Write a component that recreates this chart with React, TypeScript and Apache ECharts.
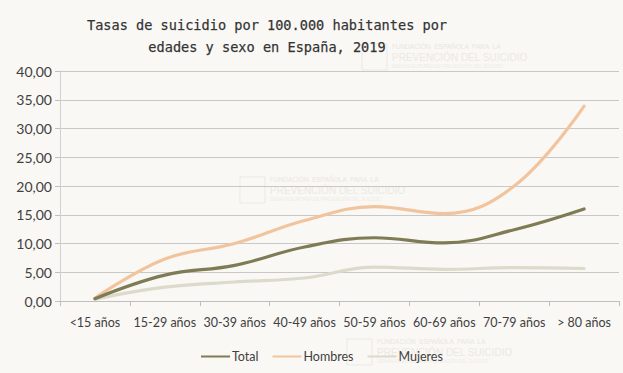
import React, { useEffect, useRef } from "react";
import * as echarts from "echarts";

const categories = ["<15 años", "15-29 años", "30-39 años", "40-49 años", "50-59 años", "60-69 años", "70-79 años", "> 80 años"];
const total = [0.4, 4.5, 6.2, 9.4, 11.0, 10.1, 12.4, 16.0];
const hombres = [0.5, 7.3, 10.0, 14.0, 16.4, 15.2, 20.0, 33.9];
const mujeres = [0.3, 2.4, 3.3, 4.0, 5.9, 5.5, 5.8, 5.65];
const yTicks = { min: 0, max: 40, interval: 5 };

const wm = (x: number, y: number) => ({
  type: "group",
  x,
  y,
  silent: true,
  z: -1,
  children: [
    { type: "rect", shape: { x: 0, y: 1, width: 25, height: 26 }, style: { fill: "none", stroke: "#ebe9e4", lineWidth: 1 } },
    { type: "text", x: 30, y: 0, style: { text: "FUNDACIÓN  ESPAÑOLA  PARA  LA", fill: "#e9e7e2", font: "6.5px 'Liberation Sans'" } },
    { type: "text", x: 30, y: 9, style: { text: "PREVENCIÓN DEL SUICIDIO", fill: "#ebe9e4", font: "10px 'Liberation Sans'" } },
    { type: "text", x: 30, y: 21, style: { text: "SEMANA EUROPEA DE PREVENCIÓN DEL SUICIDIO", fill: "#eeece8", font: "4.5px 'Liberation Sans'" } },
  ],
});

export default function App() {
  const ref = useRef<HTMLDivElement>(null);
  useEffect(() => {
    const chart = echarts.init(ref.current!, null, { renderer: "svg" });
    const lineSeries = (name: string, data: number[], color: string) => ({
      name,
      type: "line",
      data,
      smooth: 0.4,
      symbol: "none",
      showSymbol: false,
      lineStyle: { color, width: 3.2, cap: "round" },
      itemStyle: { color },
    });
    chart.setOption({
      animation: false,
      backgroundColor: "#faf8f4",
      title: {
        text: "Tasas de suicidio por 100.000 habitantes por\nedades y sexo en España, 2019",
        left: 262,
        textAlign: "center",
        top: 9,
        textStyle: {
          fontFamily: "'DejaVu Sans Mono', monospace",
          fontSize: 13.6,
          fontWeight: "normal",
          color: "#333333",
          lineHeight: 22,
          textBorderColor: "#555555",
          textBorderWidth: 0.25,
        },
      },
      graphic: [wm(362, 43), wm(240, 176), wm(347, 338)],
      legend: {
        bottom: 5,
        left: 196,
        icon: "rect",
        itemWidth: 29,
        itemHeight: 2,
        itemGap: 14,
        textStyle: { fontFamily: "Lato, 'Open Sans', sans-serif", fontSize: 12.5, color: "#404040", padding: [0, 0, 0, -3] },
        data: ["Total", "Hombres", "Mujeres"],
      },
      grid: { left: 60, right: 4, top: 71, bottom: 72, containLabel: false },
      xAxis: {
        type: "category",
        data: categories,
        boundaryGap: true,
        axisLine: { lineStyle: { color: "#bfbfbf", width: 1 } },
        axisTick: { show: true, length: 5, lineStyle: { color: "#bfbfbf" } },
        axisLabel: { color: "#404040", fontFamily: "Lato, 'Open Sans', sans-serif", fontSize: 12.5, margin: 15, interval: 0 },
      },
      yAxis: {
        type: "value",
        min: yTicks.min,
        max: yTicks.max,
        interval: yTicks.interval,
        axisLine: { show: true, lineStyle: { color: "#d0d0d0" } },
        axisTick: { show: true, length: 5, lineStyle: { color: "#bfbfbf" } },
        splitLine: { lineStyle: { color: "#c8c8c8", width: 1 } },
        axisLabel: {
          color: "#404040",
          fontFamily: "Lato, 'Open Sans', sans-serif",
          fontSize: 14,
          margin: 8,
          formatter: (v: number) => v.toFixed(2).replace(".", ","),
        },
      },
      series: [
        lineSeries("Mujeres", mujeres, "#dcdbcb"),
        lineSeries("Hombres", hombres, "#f2c49e"),
        lineSeries("Total", total, "#7f7c55"),
      ],
    });
    return () => chart.dispose();
  }, []);
  return <div ref={ref} style={{ width: 623, height: 373, position: "absolute", left: 0, top: 0 }} />;
}
